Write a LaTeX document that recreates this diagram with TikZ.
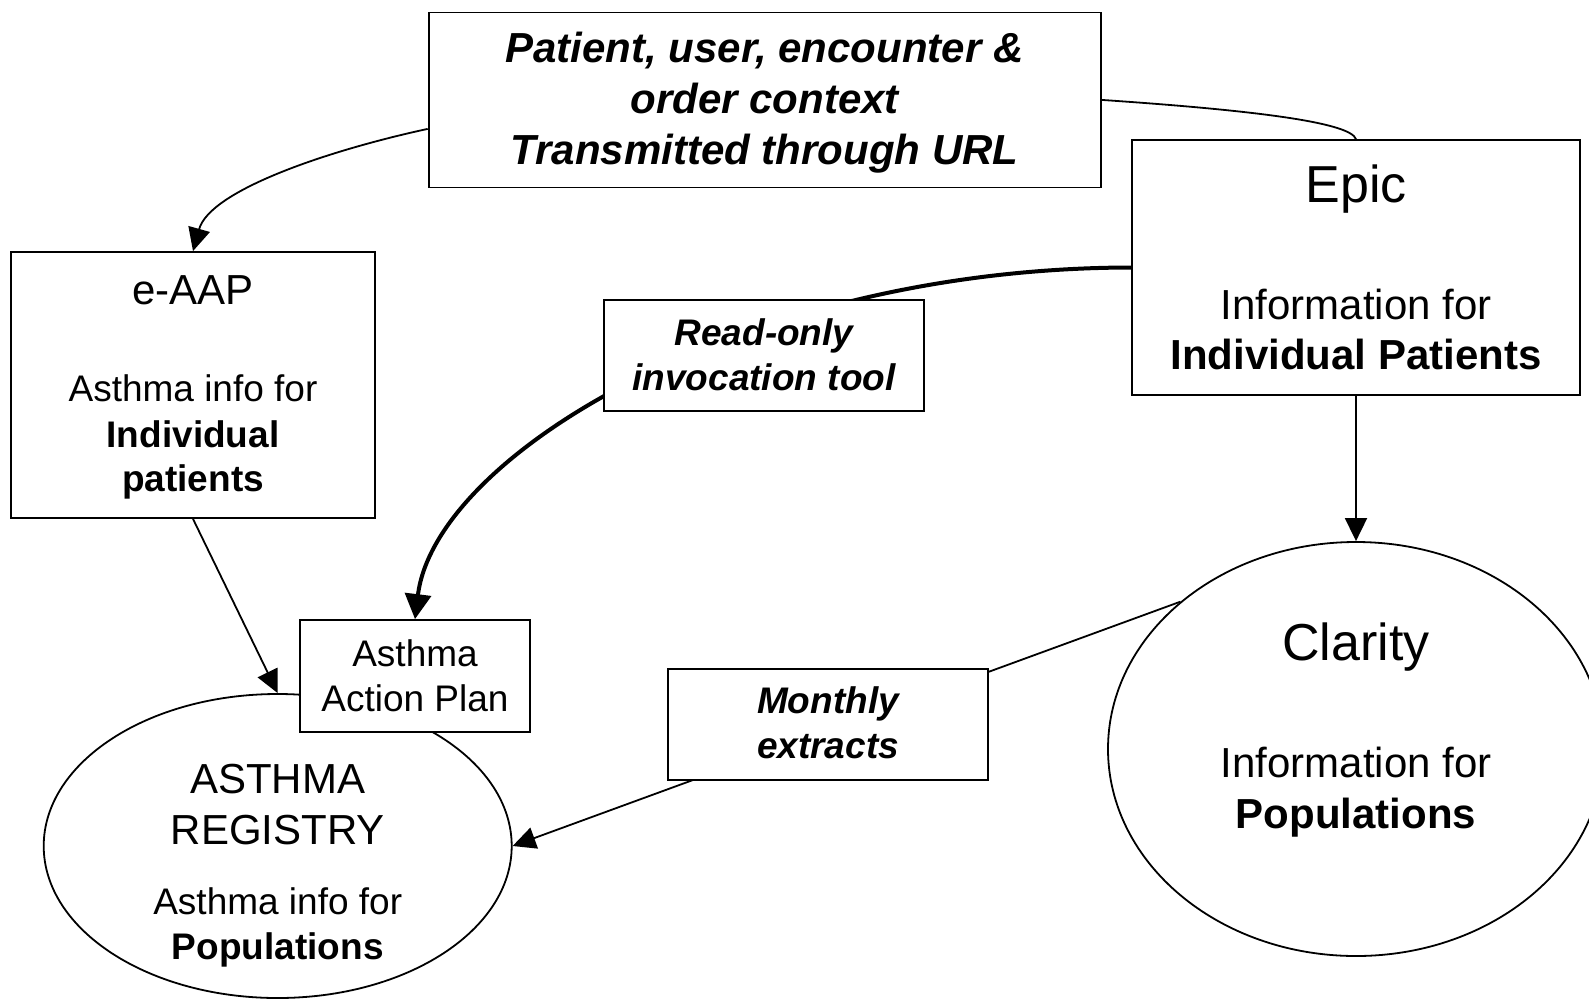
\documentclass[tikz,border=0pt]{standalone}
\usepackage{fontspec}
\setmainfont{Liberation Sans}
\usetikzlibrary{arrows.meta,shapes.geometric}
\begin{document}
\begin{tikzpicture}[x=1pt,y=-1pt,
  mybox/.style={draw, line width=1.8pt, fill=white, inner sep=0pt, rectangle},
  myoval/.style={draw, line width=1.8pt, ellipse, inner sep=0pt},
  myline/.style={line width=1.8pt},
  thickline/.style={line width=4pt},
  myarrow/.style={-{Triangle[length=23pt,width=22pt]}},
  bigarrow/.style={-{Triangle[length=25pt,width=26pt]}},
  fbig/.style={font=\fontsize{52}{62}\selectfont},
  fmed/.style={font=\fontsize{42}{50}\selectfont},
  fsm/.style={font=\fontsize{37}{44}\selectfont},
  txt/.style={inner sep=0pt, anchor=base},
]
\clip (0,0) rectangle (1589,999);
\fill[white] (0,0) rectangle (1589,999);

% main boxes
\node[mybox, minimum width=672pt, minimum height=175pt] (ctx) at (764.6,99.9) {};
\node[mybox, minimum width=448pt, minimum height=255pt] (epic) at (1356,267.5) {};
\node[mybox, minimum width=364pt, minimum height=266pt] (eaap) at (193,385) {};
\node[myoval, minimum width=468pt, minimum height=304pt] (reg) at (277.7,846) {};
\node[myoval, minimum width=496pt, minimum height=414pt] (clar) at (1356,749) {};

% connectors
\draw[myline, myarrow] ([yshift=-29pt]ctx.west) .. controls (330,150) and (210,190) .. (eaap.north);
\draw[myline] (ctx.east) .. controls (1250,110) and (1350,122) .. (epic.north);
\draw[myline, myarrow] (eaap.south) -- (reg.north);
\draw[myline, myarrow] (epic.south) -- (clar.north);
\draw[myline, myarrow] (clar.140) -- (reg.east);

% asthma action plan box (over registry)
\node[mybox, minimum width=230pt, minimum height=112pt] (aap) at (415,676) {};
\draw[thickline, bigarrow] (epic.west) .. controls (745,268) and (435,455) .. (aap.north);

% label boxes
\node[mybox, minimum width=320pt, minimum height=111pt] (ro) at (764,355.5) {};
\node[mybox, minimum width=320pt, minimum height=111pt] (mon) at (828,724.5) {};

% texts
\node[txt, fmed] (t1) at (764.6,62.6) {\bfseries\itshape Patient, user, encounter \&};
\node[txt, fmed] (t2) at (764.6,113.3) {\bfseries\itshape order context};
\node[txt, fmed] (t3) at (764.6,164.5) {\bfseries\itshape Transmitted through URL};

\node[txt, fbig] (e1) at (1356,202) {Epic};
\node[txt, fmed] (e2) at (1356,319) {Information for};
\node[txt, fmed] (e3) at (1356,369.7) {\bfseries Individual Patients};

\node[txt, fmed] (a1) at (193,304.8) {e-AAP};
\node[txt, fsm] (a2) at (193,401.2) {Asthma info for};
\node[txt, fsm] (a3) at (193,447) {\bfseries Individual};
\node[txt, fsm] (a4) at (193,491) {\bfseries patients};

\node[txt, fsm] (r1) at (764,345.6) {\bfseries\itshape Read-only};
\node[txt, fsm] (r2) at (764,390.2) {\bfseries\itshape invocation tool};

\node[txt, fsm] (p1) at (415,666.8) {Asthma};
\node[txt, fsm] (p2) at (415,711.4) {Action Plan};

\node[txt, fsm] (m1) at (828,713.5) {\bfseries\itshape Monthly};
\node[txt, fsm] (m2) at (828,758) {\bfseries\itshape extracts};

\node[txt, fmed] (g1) at (277.7,793.3) {ASTHMA};
\node[txt, fmed] (g2) at (277.7,844) {REGISTRY};
\node[txt, fsm] (g3) at (277.7,914.2) {Asthma info for};
\node[txt, fsm] (g4) at (277.7,959.7) {\bfseries Populations};

\node[txt, fbig] (c1) at (1356,660.1) {Clarity};
\node[txt, fmed] (c2) at (1356,777) {Information for};
\node[txt, fmed] (c3) at (1356,828.8) {\bfseries Populations};
\end{tikzpicture}
\end{document}
